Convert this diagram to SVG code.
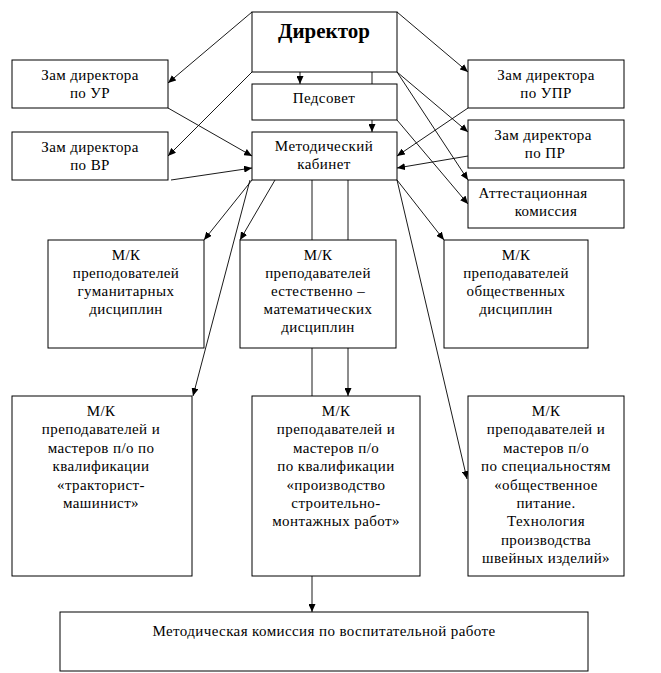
<svg xmlns="http://www.w3.org/2000/svg" width="661" height="673" viewBox="0 0 661 673" font-family="'Liberation Serif', 'DejaVu Serif', serif">
<style>
rect{fill:#fff;stroke:#000;stroke-width:1}
text{font-family:"Liberation Serif","DejaVu Serif",serif;font-size:15px;fill:#000;text-anchor:middle;letter-spacing:0.4px}
.dir{font-size:21px;font-weight:bold;letter-spacing:0}
#conn line{stroke:#000;stroke-width:0.9;fill:none}
#conn .a{marker-end:url(#ah)}
</style>
<defs>
<marker id="ah" markerUnits="userSpaceOnUse" markerWidth="9" markerHeight="7" refX="8" refY="3.5" orient="auto">
<path d="M0,0 L8,3.5 L0,7 z" fill="#000"/>
</marker>
</defs>
<rect x="0" y="0" width="661" height="673" style="stroke:none"/>
<g id="conn">
<line class="a" x1="252" y1="12" x2="168" y2="83"/>
<line class="a" x1="252" y1="72" x2="168" y2="156"/>
<line class="a" x1="168" y1="108" x2="252" y2="156"/>
<line class="a" x1="171" y1="180" x2="252" y2="168"/>
<line class="a" x1="300" y1="72" x2="300" y2="84"/>
<line x1="372" y1="72" x2="372" y2="84"/>
<line class="a" x1="372" y1="120" x2="372" y2="132"/>
<line class="a" x1="397" y1="12" x2="468" y2="72"/>
<line class="a" x1="397" y1="72" x2="468" y2="132"/>
<line class="a" x1="397" y1="72" x2="468" y2="180"/>
<line class="a" x1="397" y1="120" x2="468" y2="204"/>
<line class="a" x1="468" y1="108" x2="397" y2="156"/>
<line class="a" x1="468" y1="156" x2="397" y2="168"/>
<line class="a" x1="252" y1="180" x2="204" y2="240"/>
<line class="a" x1="275" y1="180" x2="240" y2="240"/>
<line class="a" x1="250" y1="180" x2="193" y2="396"/>
<line class="a" x1="397" y1="180" x2="444" y2="240"/>
<line class="a" x1="397" y1="180" x2="467" y2="479"/>
<line x1="312" y1="180" x2="312" y2="240"/>
<line x1="348" y1="180" x2="348" y2="240"/>
<line x1="312" y1="348" x2="312" y2="396"/>
<line class="a" x1="348" y1="348" x2="348" y2="396"/>
<line class="a" x1="312" y1="576" x2="312" y2="612"/>
</g>
<g id="director"><rect x="252" y="12" width="145" height="60"/><text class="dir" x="324" y="38">Директор</text></g>
<g id="zam-ur"><rect x="12" y="60" width="156" height="48"/><text x="90" y="80">Зам директора</text><text x="90" y="98">по УР</text></g>
<g id="zam-vr"><rect x="12" y="132" width="156" height="48"/><text x="90" y="152">Зам директора</text><text x="90" y="170">по ВР</text></g>
<g id="pedsovet"><rect x="252" y="84" width="145" height="36"/><text x="324" y="103">Педсовет</text></g>
<g id="metod"><rect x="252" y="132" width="145" height="48"/><text x="324" y="151">Методический</text><text x="324" y="169">кабинет</text></g>
<g id="zam-upr"><rect x="468" y="60" width="156" height="48"/><text x="546" y="80">Зам директора</text><text x="546" y="98">по УПР</text></g>
<g id="zam-pr"><rect x="468" y="120" width="156" height="48"/><text x="543" y="140">Зам директора</text><text x="545" y="158">по ПР</text></g>
<g id="attest"><rect x="468" y="180" width="156" height="48"/><text x="533" y="198">Аттестационная</text><text x="546" y="216">комиссия</text></g>
<g id="mk-gum"><rect x="48" y="240" width="156" height="108"/><text x="126" y="260">М/К</text><text x="126" y="278">преподователей</text><text x="126" y="296">гуманитарных</text><text x="126" y="314">дисциплин</text></g>
<g id="mk-est"><rect x="240" y="240" width="156" height="108"/><text x="318" y="260">М/К</text><text x="318" y="278">преподавателей</text><text x="318" y="296">естественно –</text><text x="318" y="314">математических</text><text x="318" y="332">дисциплин</text></g>
<g id="mk-obsh"><rect x="444" y="240" width="144" height="108"/><text x="516" y="260">М/К</text><text x="516" y="278">преподавателей</text><text x="516" y="296">общественных</text><text x="516" y="314">дисциплин</text></g>
<g id="mk-trakt"><rect x="12" y="396" width="180" height="180"/><text x="101" y="416">М/К</text><text x="101" y="434.4">преподавателей и</text><text x="101" y="452.8">мастеров п/о по</text><text x="101" y="471.2">квалификации</text><text x="101" y="489.6">«тракторист-</text><text x="101" y="508">машинист»</text></g>
<g id="mk-stroy"><rect x="252" y="396" width="168" height="180"/><text x="336" y="416">М/К</text><text x="336" y="434.4">преподавателей и</text><text x="336" y="452.8">мастеров п/о</text><text x="336" y="471.2">по квалификации</text><text x="336" y="489.6">«производство</text><text x="336" y="508">строительно-</text><text x="336" y="526.4">монтажных работ»</text></g>
<g id="mk-spec"><rect x="468" y="396" width="156" height="180"/><text x="546" y="416">М/К</text><text x="546" y="434.4">преподавателей и</text><text x="546" y="452.8">мастеров п/о</text><text x="546" y="471.2">по специальностям</text><text x="546" y="489.6">«общественное</text><text x="546" y="508">питание.</text><text x="546" y="526.4">Технология</text><text x="546" y="544.8">производства</text><text x="546" y="563.2">швейных изделий»</text></g>
<g id="mk-vosp"><rect x="60" y="612" width="528" height="59"/><text x="324" y="636">Методическая комиссия по воспитательной работе</text></g>
</svg>
